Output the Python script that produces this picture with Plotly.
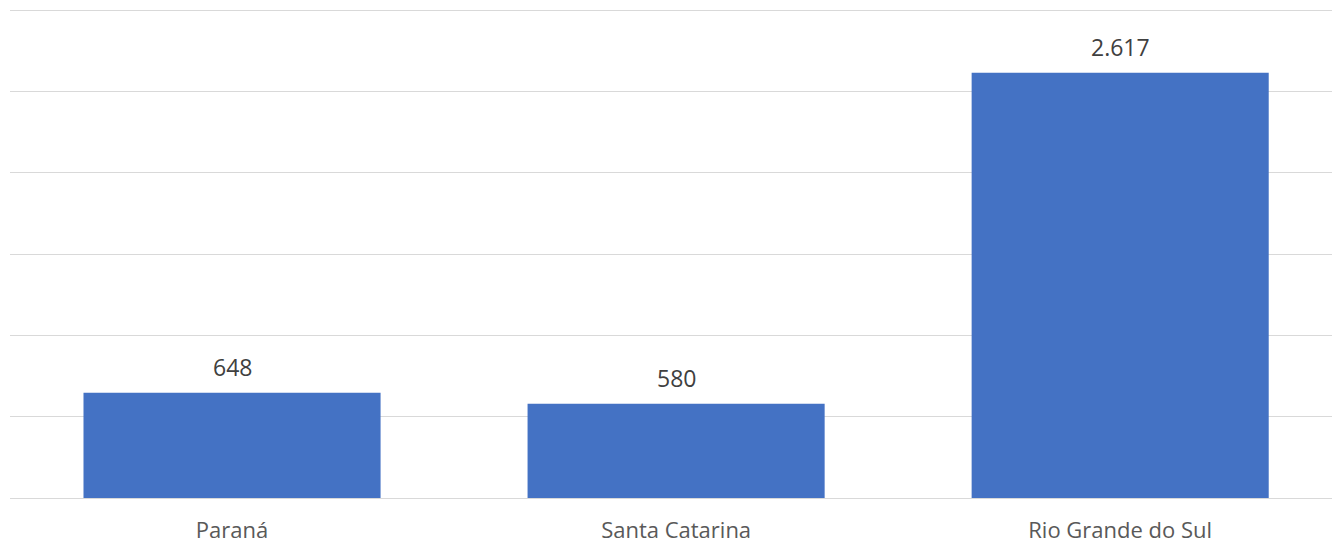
import plotly.graph_objects as go

categories = ["Paraná", "Santa Catarina", "Rio Grande do Sul"]
values = [648, 580, 2617]

fig = go.Figure(go.Bar(
    x=categories, y=values,
    marker=dict(color="#4472C4", line=dict(width=0)),
    cliponaxis=False,
    hoverinfo="skip",
))
for c, v in zip(categories, values):
    fig.add_annotation(
        x=c, y=v, text=f"{v:,}".replace(",", "."), showarrow=False,
        yanchor="bottom", yshift=8,
        font=dict(size=23, color="#404040", family="Open Sans"),
    )
fig.update_layout(
    width=1332, height=544,
    margin=dict(l=10, r=0, t=8, b=46),
    paper_bgcolor="white", plot_bgcolor="white",
    bargap=0.331,
    showlegend=False,
    font=dict(family="Open Sans", color="#595959"),
)
fig.update_xaxes(range=[-0.5, 2.477], showgrid=False, showline=False, ticks="",
                 tickfont=dict(size=22, color="#595959"), ticklabelstandoff=17)
fig.update_yaxes(range=[0, 3015], tickvals=[0, 500, 1000, 1500, 2000, 2500, 3000],
                 showticklabels=False, showgrid=True,
                 gridcolor="#d9d9d9", gridwidth=1, zeroline=True, zerolinecolor="#d9d9d9",
                 zerolinewidth=1)
fig.write_html("out.html", config={"displayModeBar": False},
               post_script="document.body.style.margin='0';")
